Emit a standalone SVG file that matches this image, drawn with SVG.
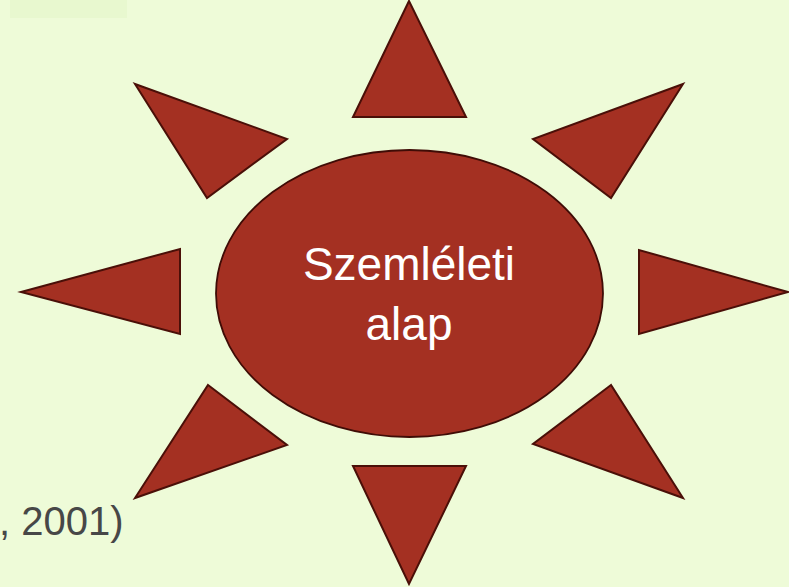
<svg xmlns="http://www.w3.org/2000/svg" width="789" height="587" viewBox="0 0 789 587">
<style>
.ray{fill:#a43022;stroke:#4a0f08;stroke-width:2;stroke-linejoin:miter}
.hub{fill:#a43022;stroke:#3f0c06;stroke-width:1.8}
.lbl{font-family:"Liberation Sans",Arial,sans-serif;font-size:46px;fill:#ffffff;text-anchor:middle}
.cite{font-family:"Liberation Sans",Arial,sans-serif;font-size:40px;fill:#474747}
</style>
<rect width="789" height="587" fill="#eefbd8"/>
<rect x="10" y="0" width="117" height="18" fill="#e6f6cc" opacity="0.7"/>
<text class="cite" x="-1" y="535">, 2001)</text>
<g id="ray-top"><polygon class="ray" points="409,1 353,117 466,117"/></g>
<g id="ray-top-left"><polygon class="ray" points="135,84 287,139 207,198"/></g>
<g id="ray-top-right"><polygon class="ray" points="683,84 533,139 611,198"/></g>
<g id="ray-left"><polygon class="ray" points="21,292 180,249 180,334"/></g>
<g id="ray-right"><polygon class="ray" points="788,292 639,250 639,334"/></g>
<g id="ray-bottom-left"><polygon class="ray" points="208,385 287,445 135,498"/></g>
<g id="ray-bottom-right"><polygon class="ray" points="611,385 533,444 683,498"/></g>
<g id="ray-bottom"><polygon class="ray" points="353,466 466,466 409,584"/></g>
<g id="center">
<ellipse class="hub" cx="409.5" cy="293.5" rx="193.5" ry="143.5"/>
<text class="lbl" x="409" y="280">Szemléleti</text>
<text class="lbl" x="409" y="340">alap</text>
</g>
<g id="connectors"></g>
</svg>
